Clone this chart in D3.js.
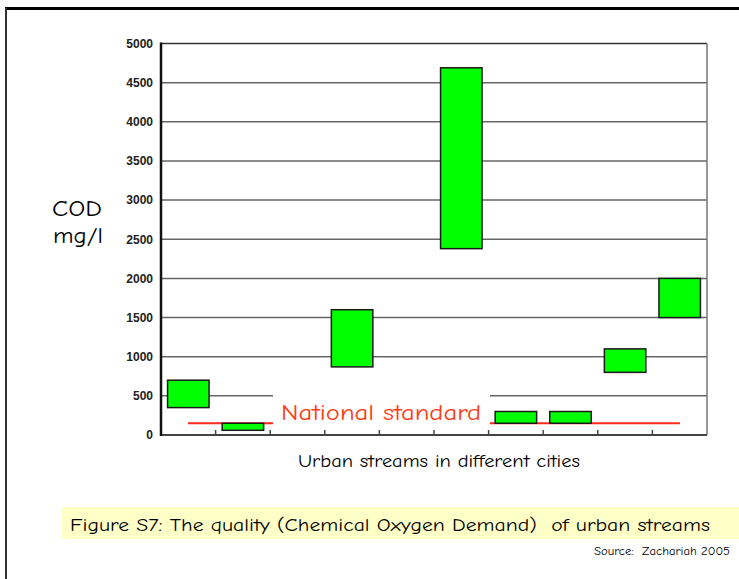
<!DOCTYPE html>
<html>
<head>
<meta charset="utf-8">
<script src="https://cdn.jsdelivr.net/npm/d3@7"></script>
<style>
  html, body { margin: 0; padding: 0; background: #fff; }
  svg { display: block; }
  text.pre { white-space: pre; }
</style>
</head>
<body>
<svg id="chart" width="739" height="579"></svg>
<script>
// ---- data ----
const categories = ["City 1","City 2","City 3","City 4","City 5","City 6","City 7","City 8","City 9","City 10"];
const lowValues  = [350, 60, null, 870, null, 2380, 150, 150, 800, 1500];
const highValues = [700, 150, null, 1600, null, 4690, 300, 300, 1100, 2000];
const yTicks = [0, 500, 1000, 1500, 2000, 2500, 3000, 3500, 4000, 4500, 5000];
const nationalStandard = 150;
const yTitle = ["COD", "mg/l"];
const xTitle = "Urban streams in different cities";
const standardLabel = "National standard";
const caption = "Figure S7: The quality (Chemical Oxygen Demand)  of urban streams";
const source = "Source:  Zachariah 2005";

(function () {
const comic = "'Comic Sans MS','Comic Neue','DejaVu Sans',sans-serif";

const svg = d3.select("#chart");

// page frame (slide crop)
svg.append("line").attr("x1", 5).attr("x2", 739).attr("y1", 8.5).attr("y2", 8.5)
  .attr("stroke", "#000").attr("stroke-width", 3);
svg.append("line").attr("x1", 6).attr("x2", 6).attr("y1", 8).attr("y2", 579)
  .attr("stroke", "#333").attr("stroke-width", 2);

const pL = 161, pR = 707, pT = 43.5, pB = 435;

const x = d3.scaleBand().domain(categories).range([pL, pR])
  .paddingInner(0.24).paddingOuter(0.12);
const y = d3.scaleLinear().domain([0, 5000]).range([pB, pT]);

// gridlines
svg.append("g").selectAll("line").data(yTicks.filter(t => t > 0))
  .join("line")
  .attr("x1", pL).attr("x2", pR)
  .attr("y1", d => y(d)).attr("y2", d => y(d))
  .attr("stroke", d => d === 5000 ? "#333" : "#666")
  .attr("stroke-width", 1.5);

// right frame
svg.append("line").attr("x1", pR).attr("x2", pR).attr("y1", pT).attr("y2", pB)
  .attr("stroke", "#777").attr("stroke-width", 1.5);

// y axis labels
const yAxis = d3.axisLeft(y).tickValues(yTicks).tickFormat(d3.format("d"))
  .tickSize(0).tickPadding(8);
const gy = svg.append("g").attr("transform", `translate(${pL},0)`).call(yAxis);
gy.select(".domain").remove();
gy.selectAll("text")
  .attr("font-family", "'Liberation Sans', Arial, sans-serif")
  .attr("font-weight", "bold").attr("font-size", 12).attr("fill", "#222");

// national standard line
svg.append("line")
  .attr("x1", 188).attr("x2", 680)
  .attr("y1", y(nationalStandard)).attr("y2", y(nationalStandard))
  .attr("stroke", "#ff2a1a").attr("stroke-width", 1.8);

// bars
const rows = categories.map((c, i) => ({c, lo: lowValues[i], hi: highValues[i]}))
  .filter(d => d.lo !== null);
svg.append("g").selectAll("rect").data(rows).join("rect")
  .attr("x", d => x(d.c))
  .attr("width", x.bandwidth())
  .attr("y", d => y(d.hi))
  .attr("height", d => y(d.lo) - y(d.hi))
  .attr("fill", "#00ff00")
  .attr("stroke", "#1a1a1a")
  .attr("stroke-width", 1.5);

// white label box
svg.append("rect").attr("x", 273).attr("y", 390).attr("width", 217).attr("height", 37)
  .attr("fill", "#fff");
svg.append("text").attr("x", 281).attr("y", 420)
  .attr("font-family", comic).attr("font-size", 22).attr("fill", "#ff3a10")
  .attr("textLength", 200).attr("lengthAdjust", "spacingAndGlyphs")
  .text(standardLabel);

// x axis: line and category boundary ticks
svg.append("line").attr("x1", pL).attr("x2", pR).attr("y1", pB).attr("y2", pB)
  .attr("stroke", "#444").attr("stroke-width", 2);
const boundaries = d3.range(categories.length + 1).map(i => pL + i * x.step());
svg.append("g").selectAll("line").data(boundaries.slice(1, -1)).join("line")
  .attr("x1", d => d).attr("x2", d => d)
  .attr("y1", pB).attr("y2", pB - 5)
  .attr("stroke", "#444").attr("stroke-width", 1.5);
// y axis line
svg.append("line").attr("x1", pL).attr("x2", pL).attr("y1", pT - 1).attr("y2", pB + 1)
  .attr("stroke", "#111").attr("stroke-width", 2.5);

// titles
svg.append("text").attr("x", 52).attr("y", 216)
  .attr("font-family", comic).attr("font-size", 22).attr("fill", "#000")
  .attr("textLength", 50).attr("lengthAdjust", "spacingAndGlyphs").text(yTitle[0]);
svg.append("text").attr("x", 53).attr("y", 243)
  .attr("font-family", comic).attr("font-size", 22).attr("fill", "#000")
  .attr("textLength", 50).attr("lengthAdjust", "spacingAndGlyphs").text(yTitle[1]);
svg.append("text").attr("x", 298).attr("y", 467)
  .attr("font-family", comic).attr("font-size", 17).attr("fill", "#000")
  .attr("textLength", 282).attr("lengthAdjust", "spacingAndGlyphs").text(xTitle);

// caption
svg.append("rect").attr("x", 62).attr("y", 507).attr("width", 677).attr("height", 32)
  .attr("fill", "#ffffc8");
svg.append("text").attr("class", "pre").attr("x", 70).attr("y", 531)
  .attr("font-family", comic).attr("font-size", 18).attr("fill", "#000")
  .attr("textLength", 640).attr("lengthAdjust", "spacingAndGlyphs").text(caption);
svg.append("text").attr("class", "pre").attr("x", 594).attr("y", 555)
  .attr("font-family", comic).attr("font-size", 11).attr("fill", "#000")
  .attr("textLength", 136).attr("lengthAdjust", "spacingAndGlyphs").text(source);
})();
</script>
</body>
</html>
